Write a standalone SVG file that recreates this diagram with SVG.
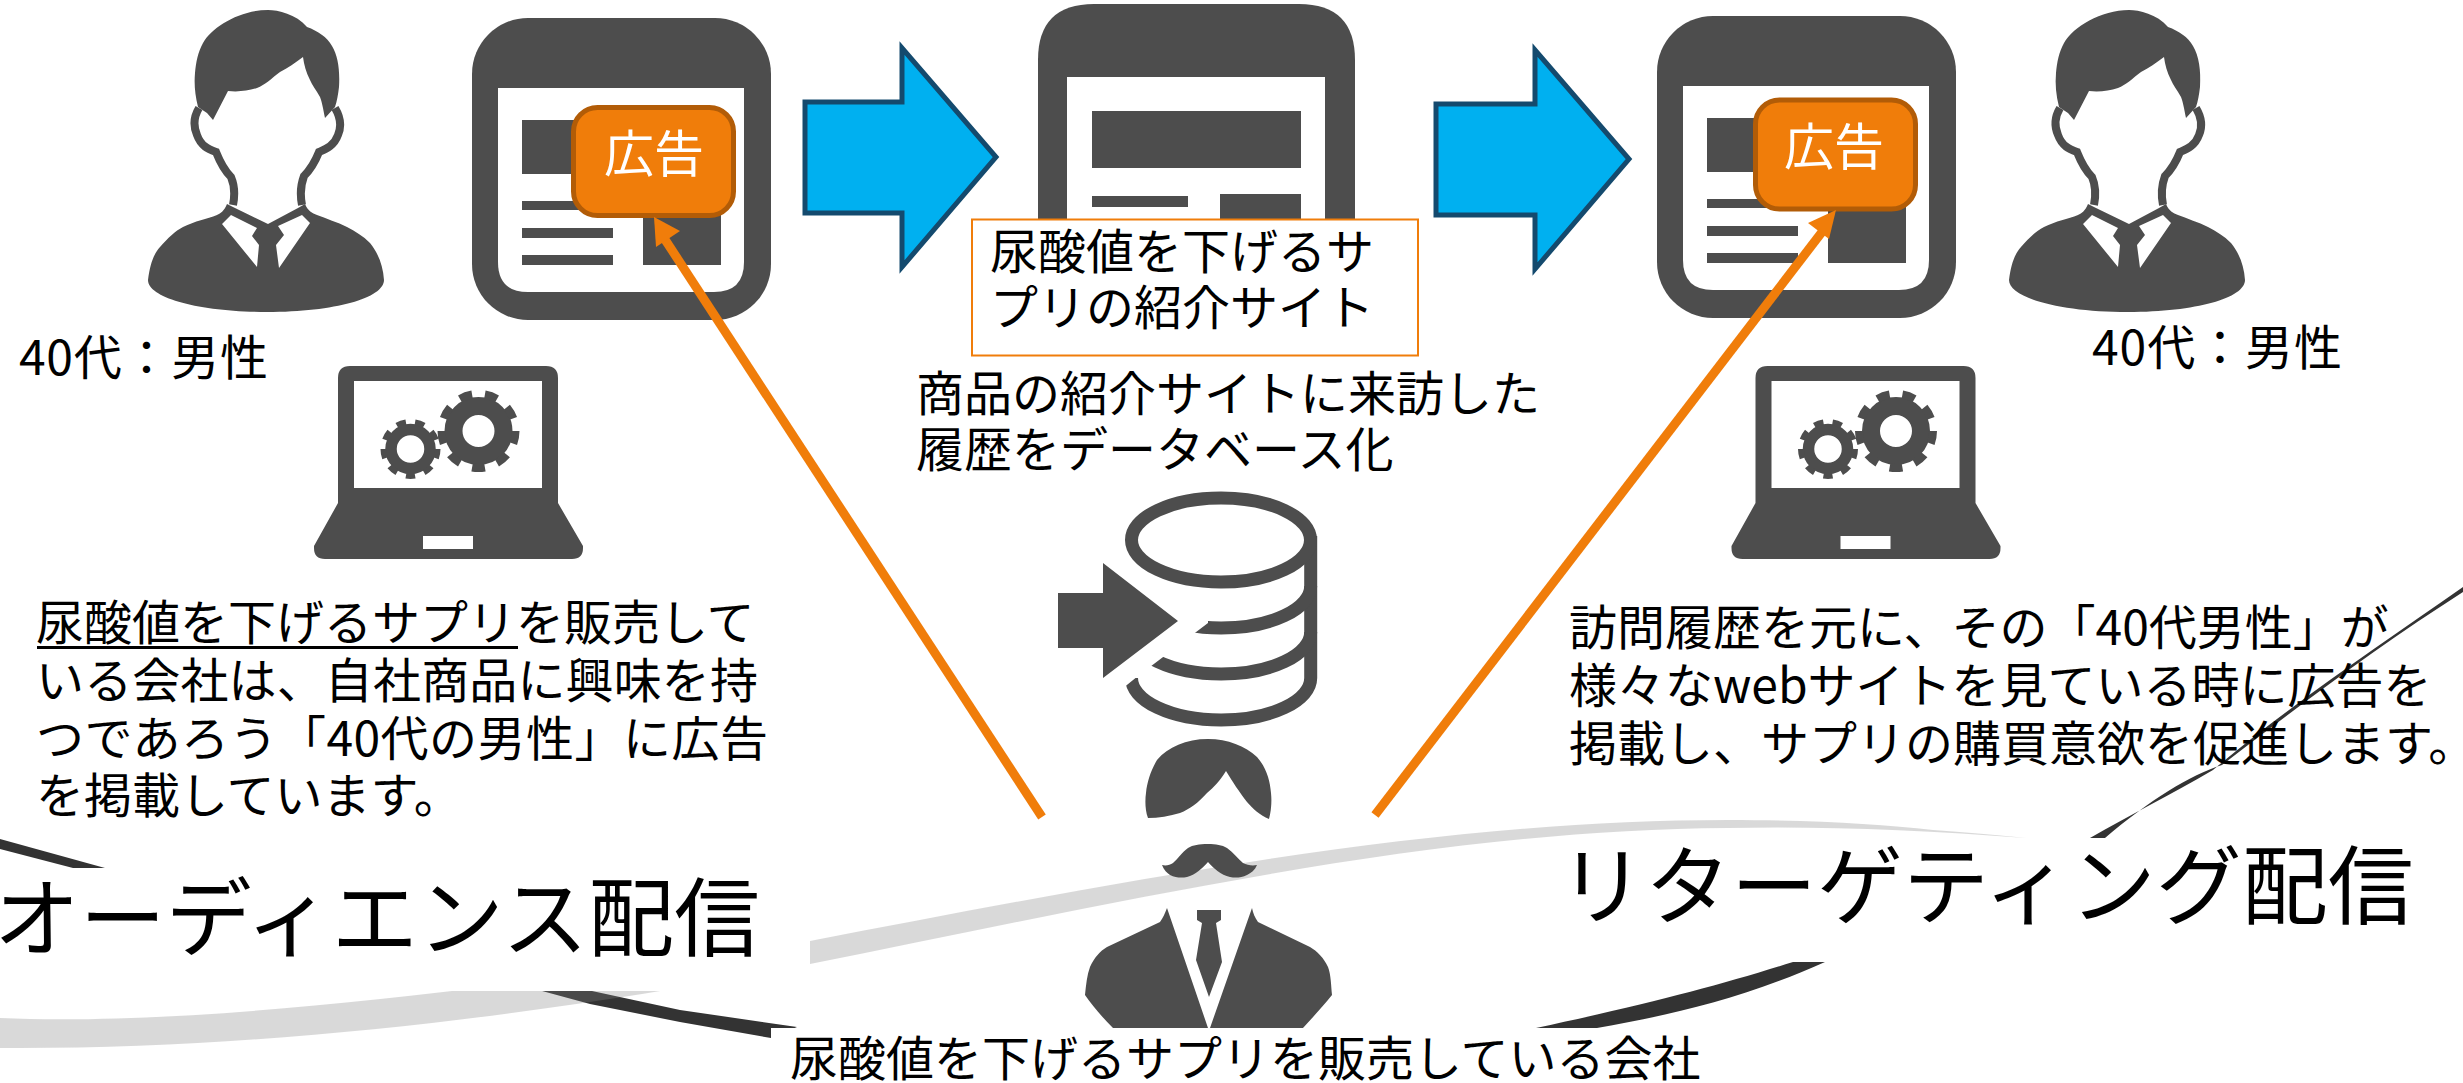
<svg xmlns="http://www.w3.org/2000/svg" xmlns:xlink="http://www.w3.org/1999/xlink" width="2463" height="1083" viewBox="0 0 2463 1083">
<style>
text{font-family:"Noto Sans CJK JP","Liberation Sans",sans-serif;fill:#000;font-size:48px}
.d{fill:#4d4d4d}
.w{fill:#fff}
.big{font-size:86px}
.ad{fill:#fff;font-size:50px}
.blue{fill:#00b0f0;stroke:#144a6e;stroke-width:5}
.adbox{fill:#f07d0a;stroke:#b25c07;stroke-width:5}
.or{fill:#f07d0a}
.orl{stroke:#f07d0a;stroke-width:9;fill:none}
.ring{fill:none;stroke:#4d4d4d}
.swd{fill:#333}
.swg{fill:#808080;fill-opacity:.3}
</style>
<defs>
<g id="man">
<path class="d" d="M268 10C278 10 296 14 307 27C318 31 327 37 332 46C338 56 340 70 339 87C338 95 337 101 335 107L325 118C323 108 322 102 320 97C316 90 312 85 310 80C306 72 304 65 303 57C295 63 288 68 280 72C272 78 265 85 257 88C248 91 238 92 228 91L213 120L207 113L198 107C195 95 194 84 195 73C196 62 198 52 203 43C212 27 240 10 268 10Z"/>
<path fill="none" stroke="#4d4d4d" stroke-width="8" d="M199 108C193 118 194 128 197 135C201 146 208 149 216 152C220 162 224 170 231 177C234 184 235 195 233 205M335 108C341 118 341 128 338 135C334 146 326 149 319 152C315 162 310 170 304 176C301 184 300 195 302 205"/>
<path class="d" d="M148 280C150 265 153 255 160 247C168 238 175 231 183 227C195 221 207 219 217 215C221 213 224 211 227 204L235 208L268 224L298 208L305 204C308 211 312 213 317 215C327 219 337 222 347 227C355 231 363 236 370 243C378 253 383 265 384 280C384 298 335 312 267 312C200 312 148 298 148 280Z"/>
<path class="w" d="M222 224L231 215L257 228L252 236L259 245L257 267Z"/>
<path class="w" d="M310 223L302 215L278 226L284 235L276 245L279 268Z"/>
</g>
<g id="tablet">
<rect class="d" x="472" y="18" width="299" height="302" rx="56" ry="56"/>
<path class="w" d="M498 88H744V262Q744 292 714 292H528Q498 292 498 262Z"/>
<rect class="d" x="522" y="120" width="70" height="54"/>
<rect class="d" x="522" y="201" width="70" height="9"/>
<rect class="d" x="522" y="228" width="91" height="10"/>
<rect class="d" x="522" y="255" width="91" height="10"/>
<rect class="d" x="643" y="205" width="78" height="60"/>
</g>
<g id="laptop">
<path class="d" d="M350 366H546Q558 366 558 378V503L583 546V548Q583 559 572 559H325Q314 559 314 548V546L338 503V378Q338 366 350 366Z"/>
<rect class="w" x="354" y="381" width="188" height="107"/>
<rect class="w" x="423" y="536" width="50" height="13"/>
<circle class="ring" cx="478.5" cy="431" r="25" stroke-width="18"/>
<circle class="ring" cx="478.5" cy="431" r="37" stroke-width="8" pathLength="90" stroke-dasharray="5 5"/>
<circle class="ring" cx="410.5" cy="449" r="19.5" stroke-width="11.5"/>
<circle class="ring" cx="410.5" cy="449" r="27" stroke-width="6" pathLength="90" stroke-dasharray="5 5"/>
</g>
</defs>
<rect width="2463" height="1083" fill="#fff"/>

<g id="swooshes">
<path class="swd" d="M0 839L105 868H73L0 849Z"/>
<path class="swd" d="M520 985L592 991L680 1010L797 1027L771 1038L680 1022L590 1004Z"/>
<path class="swd" d="M2463 587C2380 645 2290 705 2213 770C2170 795 2130 815 2090 838H2105C2150 800 2190 775 2222 765C2300 705 2380 645 2463 592Z"/>
<path class="swd" d="M1825 962H1793C1720 985 1653 1003 1536 1028H1597C1670 1015 1740 1000 1825 962Z"/>
<path class="swg" d="M0 1018C190 1027 500 990 810 941C1130 880 1430 820 1728 820C1810 820 1880 824 1933 830C1970 833 2000 835 2026 838C1920 830 1820 826 1728 828C1430 830 1130 900 810 964C600 1005 300 1050 0 1048Z"/>
<rect class="w" x="0" y="868" width="810" height="123"/>
<rect class="w" x="1555" y="838" width="908" height="124"/>
<rect class="w" x="771" y="1028" width="970" height="55"/>
</g>

<g id="person-left"><use href="#man" xlink:href="#man"/></g>
<g id="person-right"><use href="#man" xlink:href="#man" x="1861"/></g>
<g id="label-age-left"><text x="19" y="375" textLength="249">40代：男性</text></g>
<g id="label-age-right"><text x="2092" y="365" textLength="250">40代：男性</text></g>

<g id="tablet-left">
<use href="#tablet" xlink:href="#tablet"/>
<rect class="adbox" x="573.5" y="107.5" width="160" height="108" rx="24"/>
<text class="ad" x="604" y="172">広告</text>
</g>
<g id="tablet-right">
<use href="#tablet" xlink:href="#tablet" x="1185" y="-2"/>
<rect class="adbox" x="1755.5" y="100" width="160" height="109" rx="24"/>
<text class="ad" x="1784" y="165">広告</text>
</g>

<g id="tablet-center">
<path class="d" d="M1094 4H1299Q1355 4 1355 60V230H1038V60Q1038 4 1094 4Z"/>
<rect class="w" x="1067" y="77" width="258" height="150"/>
<rect class="d" x="1092" y="111" width="209" height="57"/>
<rect class="d" x="1092" y="196" width="96" height="11"/>
<rect class="d" x="1220" y="194" width="81" height="30"/>
<rect x="972" y="219.500" width="446" height="136" fill="#fff" stroke="#f07d0a" stroke-width="2"/>
<text x="990" y="269">尿酸値を下げるサ</text>
<text x="990" y="325">プリの紹介サイト</text>
</g>

<g id="arrow-1"><path class="blue" d="M805 102H902V48L996 157L902 267V213H805Z"/></g>
<g id="arrow-2"><path class="blue" d="M1436 104H1535V50L1629 159L1535 269V215H1436Z"/></g>

<g id="laptop-left"><use href="#laptop" xlink:href="#laptop"/></g>
<g id="laptop-right"><use href="#laptop" xlink:href="#laptop" x="1417.500"/></g>

<g id="database">
<g fill="none" stroke="#4d4d4d" stroke-width="13">
<path d="M1310.7 536V678"/>
<path d="M1310.7 586A89.5 42 0 0 1 1131.5 586"/>
<path d="M1310.7 632A89.5 42 0 0 1 1131.5 632"/>
<path d="M1310.7 678A89.5 42 0 0 1 1131.5 678"/>
</g>
<path class="w" d="M1208 560V623L1138 676L1117 693H1040V560Z"/>
<ellipse cx="1221" cy="540" rx="89.5" ry="42" fill="none" stroke="#4d4d4d" stroke-width="13"/>
<path class="d" d="M1058 593H1103V563L1178 621L1103 678V648H1058Z"/>
</g>

<g id="text-center"><text x="916" y="411">商品の紹介サイトに来訪した</text><text x="916" y="467">履歴をデータベース化</text></g>

<g id="text-left">
<text x="36" y="640">尿酸値を下げるサプリを販売して</text>
<rect x="37" y="646" width="481" height="3"/>
<text x="36" y="698" textLength="722">いる会社は、自社商品に興味を持</text>
<text x="36" y="756" textLength="732">つであろう「40代の男性」に広告</text>
<text x="36" y="813">を掲載しています。</text>
</g>
<g id="text-right">
<text x="1569" y="645">訪問履歴を元に、その「40代男性」が</text>
<text x="1569" y="703">様々なwebサイトを見ている時に広告を</text>
<text x="1569" y="761">掲載し、サプリの購買意欲を促進します。</text>
</g>

<g id="company">
<path class="d" d="M1148 818C1145 810 1145 800 1146 793C1147 782 1151 770 1157 760C1168 747 1186 739 1208 739C1228 739 1245 746 1257 757C1266 767 1270 780 1271 793C1272 802 1271 812 1269 819C1260 815 1253 809 1247 802C1240 793 1232 781 1226 771C1220 781 1214 787 1207 793C1198 803 1190 809 1180 813C1170 816 1158 818 1148 818Z"/>
<path class="d" d="M1208 844C1199 844 1193 845 1188 848C1182 852 1178 859 1173 863C1170 865 1166 866 1162 865C1164 870 1167 873 1170 875C1176 878 1182 878 1187 877C1195 875 1203 868 1208 862C1213 868 1221 875 1230 877C1235 878 1241 878 1247 875C1251 873 1255 870 1257 865C1252 866 1247 865 1243 863C1238 859 1233 852 1227 848C1222 845 1216 844 1208 844Z"/>
<path class="d" d="M1167 908L1208 1028H1113C1100 1015 1092 1005 1085 995C1086 985 1087 975 1090 967C1094 958 1100 951 1107 947L1160 922C1163 918 1165 913 1167 908Z"/>
<path class="d" d="M1252 908L1210 1028H1303C1315 1015 1324 1005 1332 995C1331 985 1331 975 1328 967C1324 958 1317 951 1310 947L1258 922C1255 918 1253 913 1252 908Z"/>
<path class="d" d="M1197 910H1221V920L1216 923L1222 962L1209 997L1196 960L1202 923L1197 920Z"/>
</g>
<text x="790" y="1076">尿酸値を下げるサプリを販売している会社</text>
<g id="title-left"><text class="big" x="760" y="950" text-anchor="end">オーディエンス配信</text></g>
<g id="title-right"><text class="big" x="1559" y="918">リターゲティング配信</text></g>

<g id="connectors">
<path class="orl" d="M1042 817L664 238"/>
<path class="or" d="M654 217L680 231L656 247Z"/>
<path class="orl" d="M1375 815L1822 232"/>
<path class="or" d="M1836 210L1808 223L1829 239Z"/>
</g>
</svg>
